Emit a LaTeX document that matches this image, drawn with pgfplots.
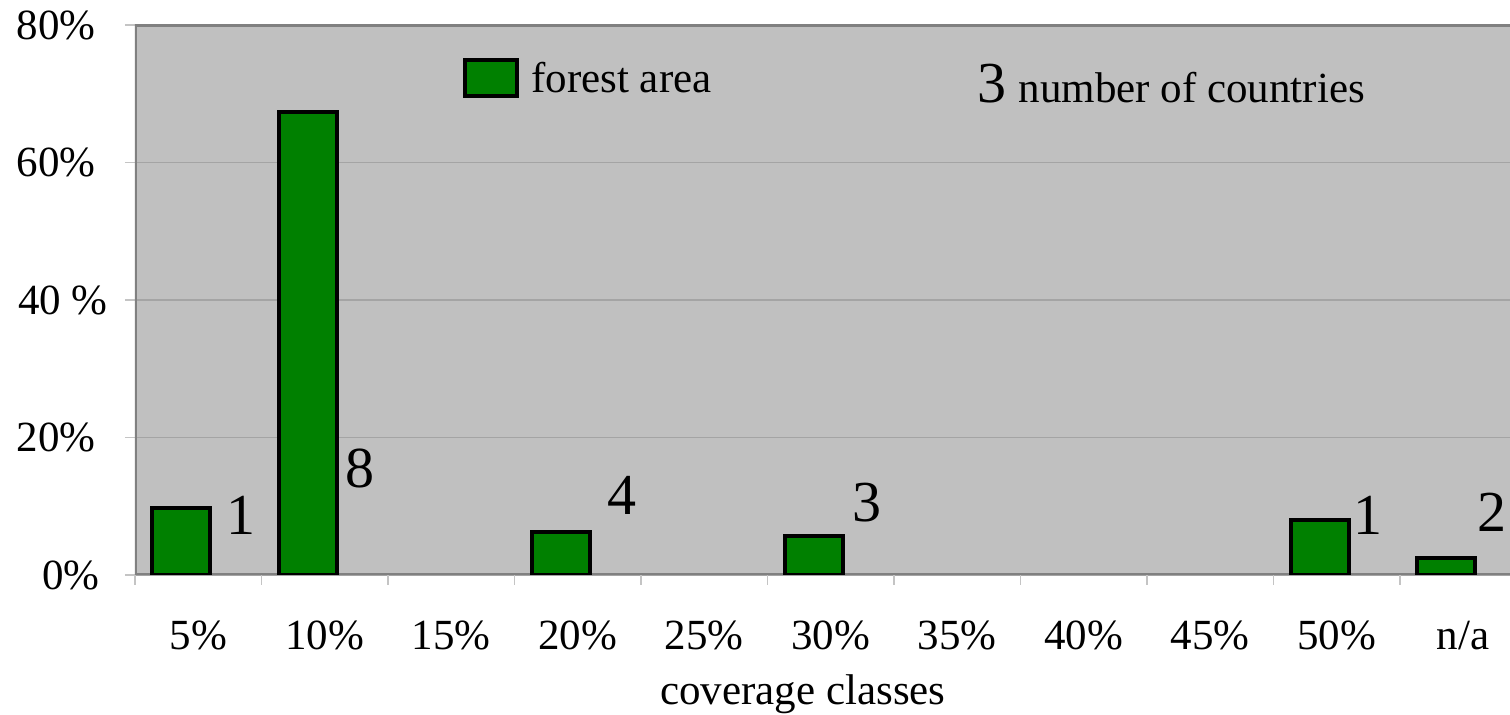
\documentclass[border=0pt]{standalone}
\usepackage{pgfplots}
\pgfplotsset{compat=1.18}
\usepackage{fontspec}
\setmainfont{Liberation Serif}

\definecolor{plotbg}{HTML}{C0C0C0}
\definecolor{forest}{HTML}{008000}
\definecolor{framegray}{HTML}{808080}
\definecolor{gridgray}{HTML}{A4A4A4}
\definecolor{tickgray}{HTML}{C4C4C4}
\newcommand\basefont{\fontsize{21.5pt}{25pt}\selectfont}
\newcommand\countfont{\fontsize{29pt}{34pt}\selectfont}

\begin{document}
\begin{tikzpicture}
\path[use as bounding box] (-67.5pt,-70pt) rectangle (687.5pt,287.5pt);
\clip (-67.5pt,-70pt) rectangle (687.5pt,287.5pt);
\begin{axis}[
  at={(0pt,0pt)}, anchor=south west,
  scale only axis, width=687.5pt, height=275pt,
  xmin=-0.5, xmax=10.3696, ymin=0, ymax=80,
  axis background/.style={fill=plotbg},
  axis line style={draw=none},
  xtick={0,...,10},
  xticklabels={5\%,10\%,15\%,20\%,25\%,30\%,35\%,40\%,45\%,50\%,n/a},
  minor xtick={-0.5,0.5,...,9.5},
  ytick={0,20,40,60,80},
  yticklabels={0\%\kern-2pt,20\%,40 \%\kern-6pt,60\%,80\%},
  xtick pos=bottom, ytick pos=left,
  tick align=outside,
  major tick length=5pt, minor tick length=5pt,
  major x tick style={draw=none},
  minor x tick style={draw=tickgray, line width=0.6pt},
  ytick style={draw=tickgray, line width=0.6pt},
  ymajorgrids,
  major grid style={draw=gridgray, line width=0.6pt},
  xticklabel style={font=\basefont, anchor=north, inner sep=0pt, yshift=-18pt},
  yticklabel style={font=\basefont, anchor=east, inner sep=0pt, xshift=-14.5pt},
  xlabel={coverage classes},
  xlabel style={font=\basefont, at={(rel axis cs:0.4858,0)}, anchor=base, inner sep=0pt, yshift=-65pt},
  legend style={at={(rel axis cs:0.2385,0.94)}, anchor=north west, draw=none, fill=none,
    inner sep=0pt, font=\basefont, column sep=6pt, nodes={inner sep=0pt}},
  legend cell align=left,
]
% plot frame: left, top and bottom sides only
\draw[framegray, line width=2pt] (rel axis cs:1,1) -- (rel axis cs:0,1) -- (rel axis cs:0,0) -- (rel axis cs:1,0);

% share of forest area per coverage class
\addplot[ybar, bar width=29pt, bar shift=-8.5pt, fill=forest, draw=black, line width=2pt,
  legend image code/.code={\draw[fill=forest, draw=black, line width=2pt] (0pt,-9pt) rectangle (26pt,9pt);}]
  coordinates {(0,9.8) (1,67.3) (3,6.25) (5,5.7) (9,8.0) (10,2.5)};
\addlegendentry{forest area}

% number of countries in each class
\addplot[forget plot, draw=none, mark=none, nodes near coords, point meta=explicit symbolic,
  nodes near coords style={anchor=center, inner sep=0pt, font=\countfont}]
  coordinates {(0.338,8.73)[1] (1.277,15.56)[8] (3.35,11.64)[4] (5.29,10.47)[3] (9.25,8.73)[1] (10.225,9.16)[2]};

\node[anchor=base west, inner sep=0pt, font=\basefont] at (rel axis cs:0.6125,0.8582)
  {{\countfont 3}\hspace{6pt}number of countries};
\end{axis}
\end{tikzpicture}
\end{document}
